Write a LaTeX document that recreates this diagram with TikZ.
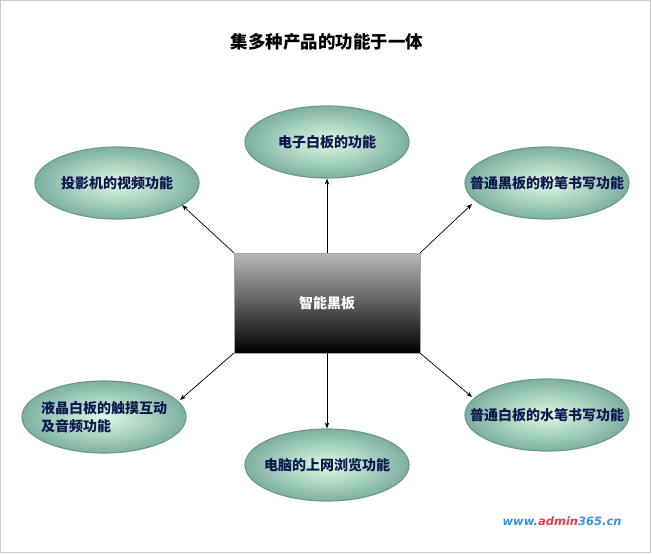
\documentclass[tikz,border=0pt]{standalone}
\usepackage{fontspec}
\newfontfamily\cjk{Noto Sans CJK SC}
\newfontfamily\wm{DejaVu Sans}
\usetikzlibrary{shapes.geometric,arrows.meta}
\definecolor{inner}{HTML}{DDFBE2}
\definecolor{outer}{HTML}{7DB0A2}
\definecolor{ebord}{HTML}{6E9A8E}
\definecolor{navy}{HTML}{101850}
\tikzset{
  oval/.style={ellipse, draw=ebord, line width=1.2pt, inner color=inner, outer color=outer,
    minimum width=164pt, minimum height=72pt, inner sep=0pt},
  ovaltext/.style={font=\cjk\bfseries\fontsize{14pt}{18pt}\selectfont, text=navy, align=left, inner sep=0pt},
  conn/.style={-{Stealth[length=6pt,width=4.5pt]}, line width=0.7pt, black}
}
\begin{document}
\begin{tikzpicture}[x=1pt,y=-1pt]
\useasboundingbox (0,0) rectangle (652,554);
\draw[gray!40] (0.5,0.5) rectangle (650.5,552.5);
\node (title) at (327,42) {\cjk\bfseries\fontsize{17.5pt}{20pt}\selectfont 集多种产品的功能于一体};
\shade[top color=gray!55, bottom color=black, draw=gray!70, line width=1pt] (234,253) rectangle (420,353);
\node (box) [minimum width=186pt, minimum height=100pt, text=white, font=\cjk\bfseries\fontsize{14pt}{18pt}\selectfont] at (327,303) {智能黑板};
\node[oval] (t) at (327,142) {};
\node[ovaltext] (tt) at (t) {电子白板的功能};
\node[oval] (lt) at (117,183) {};
\node[ovaltext] (ltt) at (lt) {投影机的视频功能};
\node[oval] (rt) at (547,183) {};
\node[ovaltext] (rtt) at (rt) {普通黑板的粉笔书写功能};
\node[oval] (lb) at (104,417) {};
\node[ovaltext] (lbt) at (lb) {液晶白板的触摸互动\\及音频功能};
\node[oval] (b) at (327,465) {};
\node[ovaltext] (bt) at (b) {电脑的上网浏览功能};
\node[oval] (rb) at (547,415) {};
\node[ovaltext] (rbt) at (rb) {普通白板的水笔书写功能};
\draw[conn] (box.north) -- (t);
\draw[conn] (box.north west) -- (182,205);
\draw[conn] (box.north east) -- (472,204);
\draw[conn] (box.south west) -- (180,400);
\draw[conn] (box.south) -- (b);
\draw[conn] (box.south east) -- (472,397);
\node (wmk) at (562,521) {\wm\bfseries\itshape\fontsize{11.5pt}{14pt}\selectfont\color[HTML]{3A8FE8}www.\color[HTML]{F03A4A}admin\color[HTML]{3A8FE8}365.cn};
\end{tikzpicture}
\end{document}
